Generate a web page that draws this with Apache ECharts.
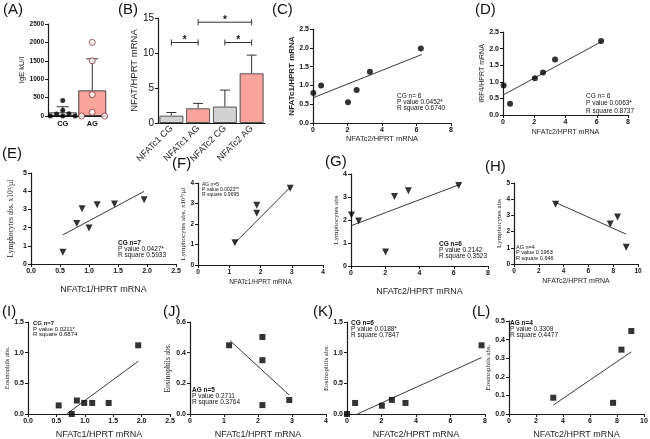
<!DOCTYPE html>
<html><head><meta charset="utf-8">
<script src="https://cdn.jsdelivr.net/npm/echarts@6/dist/echarts.min.js"></script>
<style>html,body{margin:0;padding:0;background:#fff}#c{width:650px;height:439px}</style>
</head><body><div id="c"></div>
<script>
// ---------------- DATA ----------------
// Panel A: IgE
const aCats = ['CG', 'AG'];
const aMeans = [100, 697];
const aSD = [152, 858];
const aCGVals = [0, 55, 0, 60, 0, 155, 420];
const aCGJit = [-0.42, -0.21, 0, 0.21, 0.42, 0, 0];
const aAGVals = [2000, 1500, 580, 100, 0, 0];
const aAGJit = [0, 0, 0, 0, -0.36, 0.42];
const aYAxis = [0, 2500, 500];

// Panel B: NFAT/HPRT mRNA
const bCats = ['NFATc1 CG', 'NFATc1 AG', 'NFATc2 CG', 'NFATc2 AG'];
const bMeans = [1.05, 2.1, 2.35, 7.1];
const bErrTop = [1.5, 2.8, 4.7, 9.7];
const bSigFrom = [0, 2, 1];
const bSigTo = [1, 3, 3];
const bSigY = [11.5, 11.5, 14.4];
const bSigText = ['*', '*', '*'];
const bYAxis = [0, 15, 5];

// Panel C
const cX = [0.02, 0.47, 2.03, 2.53, 3.3, 6.25];
const cY = [0.8, 1.0, 0.55, 0.88, 1.36, 1.98];
const cFitX = [0, 6.3], cFitY = [0.67, 1.82];
const cStats = ['CG n= 6', 'P value 0.0452*', 'R square 0.6740'];
const cXAxis = [0, 8, 2], cYAxis = [0, 2.5, 0.5];
// Panel D
const dX = [0.04, 0.45, 2.04, 2.56, 3.33, 6.28];
const dY = [0.89, 0.34, 1.11, 1.28, 1.67, 2.23];
const dFitX = [0, 6.3], dFitY = [0.6, 2.21];
const dStats = ['CG n= 6', 'P value 0.0063*', 'R square 0.8737'];
const dXAxis = [0, 8, 2], dYAxis = [0, 2.5, 0.5];
// Panel E
const eX = [0.55, 0.79, 0.88, 1.0, 1.14, 1.44, 1.95];
const eY = [0.64, 2.22, 3.04, 1.98, 3.26, 3.3, 3.53];
const eFitX = [0.55, 1.95], eFitY = [1.6, 3.99];
const eStats = ['CG n=7', 'P value 0.0427*', 'R square 0.5933'];
const eXAxis = [0, 2.5, 0.5], eYAxis = [0, 5, 1];
// Panel F
const fX = [1.18, 1.88, 1.88, 2.95];
const fY = [1.09, 2.53, 2.91, 3.74];
const fFitX = [1.17, 2.95], fFitY = [1.06, 3.79];
const fStats = ['AG n=5', 'P value 0.0023**', 'R square 0.9695'];
const fXAxis = [0, 4, 1], fYAxis = [0, 4, 1];
// Panel G
const gX = [0.03, 0.45, 2.02, 2.54, 3.35, 6.29];
const gY = [2.22, 1.96, 0.61, 3.02, 3.27, 3.5];
const gFitX = [0, 6.3], gFitY = [1.75, 3.53];
const gStats = ['CG n=6', 'P value 0.2142', 'R square 0.3523'];
const gXAxis = [0, 8, 2], gYAxis = [0, 4, 1];
// Panel H
const hX = [3.35, 7.76, 8.35, 9.05];
const hY = [3.69, 2.47, 2.9, 1.04];
const hFitX = [3.35, 9.05], hFitY = [3.8, 1.84];
const hStats = ['AG n=4', 'P value 0.1963', 'R square 0.646'];
const hXAxis = [0, 10, 2], hYAxis = [0, 5, 1];
// Panel I
const iX = [0.54, 0.77, 0.86, 0.99, 1.13, 1.42, 1.94];
const iY = [0.14, 0, 0.22, 0.18, 0.18, 0.18, 1.12];
const iFitX = [0.68, 1.94], iFitY = [0, 0.86];
const iStats = ['CG n=7', 'P value 0.0211*', 'R square 0.6874'];
const iXAxis = [0, 2.5, 0.5], iYAxis = [0, 1.5, 0.5];
// Panel J
const jX = [1.15, 2.13, 2.13, 2.13, 2.92];
const jY = [0.448, 0.502, 0.351, 0.058, 0.091];
const jFitX = [1.17, 2.92], jFitY = [0.48, 0.123];
const jStats = ['AG n=5', 'P value 0.2711', 'R square 0.3764'];
const jXAxis = [0, 4, 1], jYAxis = [0, 0.6, 0.2];
// Panel K
const kX = [0, 0.47, 2.02, 2.6, 3.39, 7.8];
const kY = [0, 0.18, 0.135, 0.23, 0.18, 1.12];
const kFitX = [0.6, 7.8], kFitY = [0, 0.92];
const kStats = ['CG n=6', 'P value 0.0188*', 'R square 0.7847'];
const kXAxis = [0, 8, 2], kYAxis = [0, 1.5, 0.5];
// Panel L
const lX = [3.28, 7.71, 8.33, 9.06];
const lY = [0.0875, 0.06, 0.346, 0.446];
const lFitX = [3.28, 9.06], lFitY = [0.048, 0.334];
const lStats = ['AG n=4', 'P value 0.3309', 'R square 0.4477'];
const lXAxis = [0, 10, 2], lYAxis = [0, 0.5, 0.1];

const panelLetters = ['(A)', '(B)', '(C)', '(D)', '(E)', '(F)', '(G)', '(H)', '(I)', '(J)', '(K)', '(L)'];

// ---------------- BUILD ----------------
const SANS = "'Liberation Sans', Arial, sans-serif";
const SERIF = "'Liberation Serif', 'Times New Roman', serif";
const AX = '#1a1a1a';
const PINK = '#f8a39b';
const GREY = '#d2d2d2';

const grid = [], xAxis = [], yAxis = [], series = [], graphic = [];

function addGrid(box) {
  grid.push({ left: box[0], top: box[1], width: box[2] - box[0], height: box[3] - box[1],
    containLabel: false, outerBoundsMode: 'none' });
  return grid.length - 1;
}
function axisCommon(extra) {
  return Object.assign({
    axisLine: { show: true, onZero: false, lineStyle: { color: AX, width: 1.2 } },
    axisTick: { show: true, length: 3, lineStyle: { color: AX, width: 1 } },
    splitLine: { show: false }
  }, extra);
}
function lab(dec, size, bold) {
  return { fontFamily: SANS, fontSize: size, fontWeight: bold === false ? 'normal' : 'bold', color: '#111', margin: 4,
    formatter: v => Number(v).toFixed(dec) };
}

function errRender(half) {
  return function (params, api) {
    const p0 = api.coord([api.value(0), api.value(1)]);
    const p1 = api.coord([api.value(0), api.value(2)]);
    const st = { stroke: '#333', lineWidth: 1 };
    return { type: 'group', children: [
      { type: 'line', shape: { x1: p0[0], y1: p0[1], x2: p1[0], y2: p1[1] }, style: st },
      { type: 'line', shape: { x1: p1[0] - half, y1: p1[1], x2: p1[0] + half, y2: p1[1] }, style: st }
    ] };
  };
}

// ---- Panel A
(function () {
  const gi = addGrid([48, 24, 107, 116]);
  xAxis.push(axisCommon({ gridIndex: gi, type: 'category', data: aCats, axisTick: { show: false },
    axisLabel: { interval: 0, fontFamily: SANS, fontSize: 7.5, fontWeight: 'bold', color: '#111', margin: 4 } }));
  const xi = xAxis.length - 1;
  xAxis.push({ gridIndex: gi, type: 'value', min: -0.5, max: 1.5, show: false });
  const xj = xAxis.length - 1;
  yAxis.push(axisCommon({ gridIndex: gi, type: 'value', min: aYAxis[0], max: aYAxis[1], interval: aYAxis[2],
    name: 'IgE kU/l', nameLocation: 'middle', nameGap: 19,
    nameTextStyle: { fontFamily: SANS, fontSize: 7.5, color: '#222' }, axisLabel: lab(0, 6.5) }));
  const yi = yAxis.length - 1;
  series.push({ type: 'bar', xAxisIndex: xi, yAxisIndex: yi, barWidth: 28,
    data: aMeans.map((v, i) => ({ value: v, itemStyle: { color: i ? PINK : '#e6e6e6', borderColor: '#444', borderWidth: 1 } })) });
  series.push({ type: 'custom', xAxisIndex: xi, yAxisIndex: yi, encode: { x: 0, y: [1, 2] }, renderItem: errRender(6),
    data: aMeans.map((m, i) => [i, m, m + aSD[i]]), z: 3 });
  series.push({ type: 'scatter', xAxisIndex: xj, yAxisIndex: yi, symbolSize: 5, clip: false, itemStyle: { color: '#000' },
    data: aCGVals.map((v, i) => [0 + aCGJit[i], v]), z: 4 });
  series.push({ type: 'scatter', xAxisIndex: xj, yAxisIndex: yi, symbolSize: 6, clip: false,
    itemStyle: { color: '#fff', borderColor: '#8a3030', borderWidth: 1 },
    data: aAGVals.map((v, i) => [1 + aAGJit[i], v]), z: 4 });
})();

// ---- Panel B
(function () {
  const gi = addGrid([158, 18, 265, 123]);
  xAxis.push(axisCommon({ gridIndex: gi, type: 'category', data: bCats, axisTick: { show: false },
    axisLabel: { interval: 0, rotate: 45, fontFamily: SANS, fontSize: 9, color: '#222', margin: 4 } }));
  const xi = xAxis.length - 1;
  yAxis.push(axisCommon({ gridIndex: gi, type: 'value', min: bYAxis[0], max: bYAxis[1], interval: bYAxis[2],
    name: 'NFAT/HPRT mRNA', nameLocation: 'middle', nameGap: 16,
    nameTextStyle: { fontFamily: SANS, fontSize: 9.5, color: '#222' }, axisLabel: lab(0, 10, false) }));
  const yi = yAxis.length - 1;
  series.push({ type: 'bar', xAxisIndex: xi, yAxisIndex: yi, barWidth: 24,
    data: bMeans.map((v, i) => ({ value: v, itemStyle: { color: i % 2 ? PINK : GREY, borderColor: '#555', borderWidth: 1 } })) });
  series.push({ type: 'custom', xAxisIndex: xi, yAxisIndex: yi, encode: { x: 0, y: [1, 2] }, renderItem: errRender(5),
    data: bMeans.map((m, i) => [i, m, bErrTop[i]]), z: 3 });
  series.push({ type: 'custom', xAxisIndex: xi, yAxisIndex: yi, encode: { x: [0, 1], y: 2 },
    data: bSigFrom.map((f, i) => [f, bSigTo[i], bSigY[i]]),
    renderItem: function (params, api) {
      const a = api.coord([api.value(0), api.value(2)]);
      const b = api.coord([api.value(1), api.value(2)]);
      const st = { stroke: '#333', lineWidth: 1 };
      return { type: 'group', children: [
        { type: 'line', shape: { x1: a[0], y1: a[1], x2: b[0], y2: b[1] }, style: st },
        { type: 'line', shape: { x1: a[0], y1: a[1] - 3, x2: a[0], y2: a[1] + 3 }, style: st },
        { type: 'line', shape: { x1: b[0], y1: b[1] - 3, x2: b[0], y2: b[1] + 3 }, style: st },
        { type: 'text', x: (a[0] + b[0]) / 2, y: a[1] + 3,
          style: { text: bSigText[params.dataIndex], fill: '#111', font: 'bold 10px ' + SANS, align: 'center', verticalAlign: 'bottom' } }
      ] };
    }, z: 3 });
})();

// ---- Scatter panels
function scatterPanel(p) {
  const gi = addGrid(p.box);
  xAxis.push(axisCommon({ gridIndex: gi, type: 'value', min: p.xr[0], max: p.xr[1], interval: p.xr[2],
    name: p.xName, nameLocation: 'middle', nameGap: p.xGap,
    nameTextStyle: { fontFamily: SANS, fontSize: p.xNameSize, color: '#222' }, axisLabel: lab(p.xDec, p.tick) }));
  yAxis.push(axisCommon({ gridIndex: gi, type: 'value', min: p.yr[0], max: p.yr[1], interval: p.yr[2],
    name: p.yName, nameLocation: 'middle', nameGap: p.yGap,
    nameTextStyle: { fontFamily: p.yFont, fontSize: p.yNameSize, fontWeight: p.yBold ? 'bold' : 'normal', color: '#222' },
    axisLabel: lab(p.yDec, p.tick) }));
  const xi = xAxis.length - 1, yi = yAxis.length - 1;
  series.push({ type: 'line', xAxisIndex: xi, yAxisIndex: yi, symbol: 'none', clip: false,
    lineStyle: { color: '#3a3a3a', width: 1 }, data: p.fx.map((v, i) => [v, p.fy[i]]), z: 2 });
  series.push({ type: 'scatter', xAxisIndex: xi, yAxisIndex: yi, symbol: p.symbol, symbolSize: p.size,
    symbolRotate: p.rot || 0, clip: false, itemStyle: { color: '#000' },
    data: p.x.map((v, i) => [v, p.y[i]]), z: 3 });
  p.stats.forEach((t, k) => graphic.push({ type: 'text', x: p.sx, y: p.sy[k], z: 10,
    style: { text: t, fill: '#111', font: (k === 0 && p.boldFirst ? 'bold ' : '') + p.statSize + 'px ' + SANS, verticalAlign: 'middle' } }));
}

const LYM = 'Lymphocytes abs. x10\u00b3/\u00b5l';
const panels = [
  { box: [313, 29, 451, 123], x: cX, y: cY, fx: cFitX, fy: cFitY, xr: cXAxis, yr: cYAxis, xDec: 0, yDec: 1, tick: 7,
    xName: 'NFATc2/HPRT mRNA', xGap: 12, xNameSize: 7.5, yName: 'NFATc1/HPRT mRNA', yGap: 14, yNameSize: 8, yBold: true, yFont: SANS,
    symbol: 'circle', size: 6, stats: cStats, sx: 397, sy: [96, 102, 108], statSize: 6.5, boldFirst: false },
  { box: [503, 32, 628, 115], x: dX, y: dY, fx: dFitX, fy: dFitY, xr: dXAxis, yr: dYAxis, xDec: 0, yDec: 1, tick: 7,
    xName: 'NFATc2/HPRT mRNA', xGap: 14, xNameSize: 7, yName: 'IRF4/HPRT mRNA', yGap: 12, yNameSize: 7, yFont: SANS,
    symbol: 'circle', size: 6, stats: dStats, sx: 586, sy: [96, 103, 111], statSize: 6.5, boldFirst: false },
  { box: [31, 173, 176, 264], x: eX, y: eY, fx: eFitX, fy: eFitY, xr: eXAxis, yr: eYAxis, xDec: 1, yDec: 0, tick: 7,
    xName: 'NFATc1/HPRT mRNA', xGap: 21, xNameSize: 9, yName: LYM, yGap: 16, yNameSize: 7.5, yFont: SERIF,
    symbol: 'triangle', rot: 180, size: 7, stats: eStats, sx: 118, sy: [243, 249, 255], statSize: 6.5, boldFirst: true },
  { box: [198, 183, 323, 265], x: fX, y: fY, fx: fFitX, fy: fFitY, xr: fXAxis, yr: fYAxis, xDec: 0, yDec: 0, tick: 6.5,
    xName: 'NFATc1/HPRT mRNA', xGap: 14, xNameSize: 6.5, yName: LYM, yGap: 8, yNameSize: 7, yFont: SERIF,
    symbol: 'triangle', rot: 180, size: 7, stats: fStats, sx: 202, sy: [185, 190, 195], statSize: 5, boldFirst: false },
  { box: [351, 174, 488, 266], x: gX, y: gY, fx: gFitX, fy: gFitY, xr: gXAxis, yr: gYAxis, xDec: 0, yDec: 0, tick: 7,
    xName: 'NFATc2/HPRT mRNA', xGap: 21, xNameSize: 9, yName: 'Lymphocytes abs', yGap: 7, yNameSize: 7, yFont: SERIF,
    symbol: 'triangle', rot: 180, size: 7, stats: gStats, sx: 439, sy: [244, 250, 256], statSize: 6.5, boldFirst: true },
  { box: [514, 183, 638, 264], x: hX, y: hY, fx: hFitX, fy: hFitY, xr: hXAxis, yr: hYAxis, xDec: 0, yDec: 0, tick: 6.5,
    xName: 'NFATc2/HPRT mRNA', xGap: 14, xNameSize: 7, yName: 'Lymphocytes abs', yGap: 10, yNameSize: 7, yFont: SERIF,
    symbol: 'triangle', rot: 180, size: 7, stats: hStats, sx: 516, sy: [247, 252, 258], statSize: 5.5, boldFirst: false },
  { box: [28, 322, 170, 414], x: iX, y: iY, fx: iFitX, fy: iFitY, xr: iXAxis, yr: iYAxis, xDec: 1, yDec: 1, tick: 7,
    xName: 'NFATc1/HPRT mRNA', xGap: 16, xNameSize: 9, yName: 'Eosinophils abs.', yGap: 14, yNameSize: 6.5, yFont: SERIF,
    symbol: 'rect', size: 6, stats: iStats, sx: 33, sy: [323, 329, 334], statSize: 6, boldFirst: true },
  { box: [190, 322, 326, 414], x: jX, y: jY, fx: jFitX, fy: jFitY, xr: jXAxis, yr: jYAxis, xDec: 0, yDec: 1, tick: 7,
    xName: 'NFATc1/HPRT mRNA', xGap: 16, xNameSize: 9, yName: 'Eosinophils abs.', yGap: 14, yNameSize: 7.5, yFont: SERIF,
    symbol: 'rect', size: 6, stats: jStats, sx: 192, sy: [390, 396, 402], statSize: 6.5, boldFirst: true },
  { box: [347, 322, 485, 414], x: kX, y: kY, fx: kFitX, fy: kFitY, xr: kXAxis, yr: kYAxis, xDec: 0, yDec: 1, tick: 7,
    xName: 'NFATc2/HPRT mRNA', xGap: 16, xNameSize: 9, yName: 'Eosinophils abs.', yGap: 13, yNameSize: 7, yFont: SERIF,
    symbol: 'rect', size: 6, stats: kStats, sx: 351, sy: [323, 329, 335], statSize: 6.5, boldFirst: true },
  { box: [509, 321, 644, 414], x: lX, y: lY, fx: lFitX, fy: lFitY, xr: lXAxis, yr: lYAxis, xDec: 0, yDec: 1, tick: 7,
    xName: 'NFATc2/HPRT mRNA', xGap: 16, xNameSize: 9, yName: 'Eosinophils abs.', yGap: 14, yNameSize: 7, yFont: SERIF,
    symbol: 'rect', size: 6, stats: lStats, sx: 510, sy: [323, 329, 335], statSize: 6.5, boldFirst: true }
];
panels.forEach(scatterPanel);

// ---- Panel letters
const letterPos = [[3, 2], [118, 2], [272, 2], [475, 2], [2, 146], [172, 156], [325, 154], [485, 159],
  [2, 304], [163, 304], [313, 304], [472, 304]];
panelLetters.forEach((t, i) => graphic.push({ type: 'text', x: letterPos[i][0], y: letterPos[i][1], z: 10,
  style: { text: t, fill: '#111', font: '15px ' + SANS, verticalAlign: 'top' } }));

const chart = echarts.init(document.getElementById('c'));
chart.setOption({
  animation: false,
  backgroundColor: '#fff',
  grid, xAxis, yAxis, series, graphic
});
</script>
</body></html>
